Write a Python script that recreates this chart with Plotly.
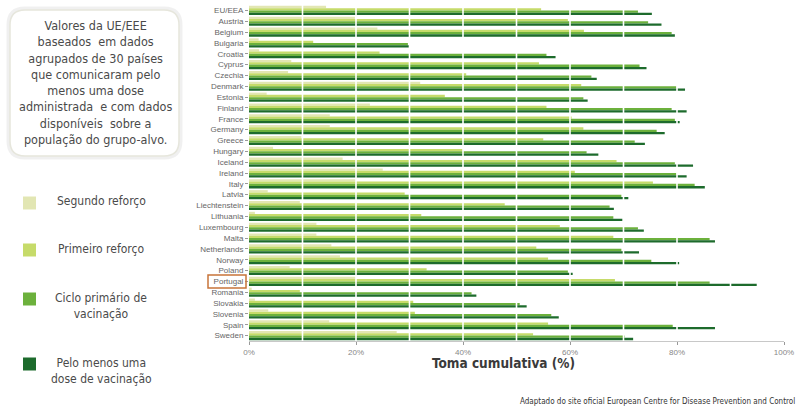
import plotly.graph_objects as go

# Cumulative uptake (%) by country
countries = ["EU/EEA", "Austria", "Belgium", "Bulgaria", "Croatia", "Cyprus", "Czechia",
             "Denmark", "Estonia", "Finland", "France", "Germany", "Greece", "Hungary",
             "Iceland", "Ireland", "Italy", "Latvia", "Liechtenstein", "Lithuania",
             "Luxembourg", "Malta", "Netherlands", "Norway", "Poland", "Portugal",
             "Romania", "Slovakia", "Slovenia", "Spain", "Sweden"]
segundo_reforco = [14.4, 19.8, 24.0, 1.8, 1.9, 7.9, 7.3, 32.0, 3.3, 22.6, 15.1, 15.1, 9.8, 4.5,
                   17.5, 25.0, 20.0, 3.5, 9.5, 1.1, 12.6, 12.6, 15.4, 17.0, 7.6, 20.0, 0.5,
                   1.1, 3.6, 15.0, 27.6]
primeiro_reforco = [54.6, 59.6, 62.6, 12.0, 24.4, 54.2, 40.6, 62.1, 36.6, 55.6, 60.3, 62.5, 55.0,
                    40.0, 68.7, 60.9, 75.5, 29.1, 47.8, 32.2, 58.1, 68.1, 53.7, 55.9, 33.2, 68.4,
                    9.5, 30.7, 31.0, 55.9, 53.1]
ciclo_primario = [72.7, 74.6, 79.0, 29.7, 55.6, 73.0, 64.0, 79.9, 62.5, 79.0, 79.6, 76.2, 72.1,
                  63.1, 79.6, 79.9, 83.3, 69.6, 67.4, 68.1, 72.7, 86.1, 69.6, 75.2, 59.6, 86.1,
                  41.6, 50.6, 56.5, 79.2, 70.2]
uma_dose = [75.3, 77.1, 79.6, 30.0, 57.3, 74.3, 65.0, 81.5, 63.3, 81.8, 80.5, 77.7, 74.0, 65.3,
            83.0, 81.8, 85.2, 70.9, 68.2, 69.8, 73.8, 87.1, 72.9, 80.4, 60.5, 94.9, 42.5, 51.9,
            57.9, 87.1, 71.8]

series_names = ["Segundo reforço", "Primeiro reforço", "Ciclo primário de<br>vacinação",
                "Pelo menos uma<br>dose de vacinação"]
series_colors = ["#e2e6b3", "#c6db6a", "#6cb13c", "#1d6b2c"]
x_ticks = [0, 20, 40, 60, 80, 100]
x_ticklabels = ["0%", "20%", "40%", "60%", "80%", "100%"]

W, H = 803, 408
L, R, T, B = 249, 19, 5, 67
PW, PH = W - L - R, H - T - B


def px(x):
    return (x - L) / PW


def py(y):
    return (H - B - y) / PH


fig = go.Figure()
for name, vals, col in zip(series_names, [segundo_reforco, primeiro_reforco, ciclo_primario, uma_dose],
                           series_colors):
    fig.add_trace(go.Bar(y=countries, x=vals, orientation="h", name=name,
                         marker=dict(color=col, line=dict(width=0)), showlegend=False))

shapes = []
# white vertical rules every 10%
for v in range(10, 100, 10):
    shapes.append(dict(type="line", xref="x", yref="paper", x0=v, x1=v, y0=0, y1=1,
                       line=dict(color="white", width=1.6), layer="above"))


def rounded_rect(x0, y0, x1, y1, r):
    rx, ry = r / PW, r / PH
    a0, a1 = px(x0), px(x1)
    b0, b1 = py(y1), py(y0)  # b0 bottom, b1 top
    return (f"M {a0+rx},{b1} L {a1-rx},{b1} Q {a1},{b1} {a1},{b1-ry} "
            f"L {a1},{b0+ry} Q {a1},{b0} {a1-rx},{b0} L {a0+rx},{b0} "
            f"Q {a0},{b0} {a0},{b0+ry} L {a0},{b1-ry} Q {a0},{b1} {a0+rx},{b1} Z")


# soft shadow and box for the note
shapes.append(dict(type="path", xref="paper", yref="paper", path=rounded_rect(9, 9, 180, 157, 16),
                   line=dict(color="rgba(0,0,0,0.06)", width=5), fillcolor="white", layer="below"))
shapes.append(dict(type="path", xref="paper", yref="paper", path=rounded_rect(10, 10, 179, 156, 15),
                   line=dict(color="#e6e6dc", width=1.5), fillcolor="white", layer="below"))

# legend swatches
legend_y = [203, 250, 299, 364]
for yy, col in zip(legend_y, series_colors):
    shapes.append(dict(type="rect", xref="paper", yref="paper", x0=px(23), x1=px(36),
                       y0=py(yy + 6.5), y1=py(yy - 6.5), fillcolor=col, line=dict(width=0)))

# highlight box around Portugal
shapes.append(dict(type="rect", xref="paper", yref="paper", x0=px(208), x1=px(246),
                   y0=py(288), y1=py(275), line=dict(color="#c8743a", width=1.5),
                   fillcolor="rgba(0,0,0,0)"))

font_main = "DejaVu Sans Condensed, Liberation Sans Narrow, Roboto, sans-serif"
font_ticks = "Liberation Sans, Arial, sans-serif"
annotations = []
note = ("Valores da UE/EEE<br>baseados  em dados<br>agrupados de 30 países<br>"
        "que comunicaram pelo<br>menos uma dose<br>administrada  e com dados<br>"
        "disponíveis  sobre a<br>população do grupo-alvo.")
annotations.append(dict(xref="paper", yref="paper", x=px(95), y=py(83), text=note,
                        showarrow=False, xanchor="center", yanchor="middle", align="center",
                        font=dict(family=font_main, size=12.5, color="#4a4a4a")))
legend_text_y = [201, 249, 306, 371]
for name, yy in zip(series_names, legend_text_y):
    annotations.append(dict(xref="paper", yref="paper", x=px(101), y=py(yy), text=name,
                            showarrow=False, xanchor="center", yanchor="middle", align="center",
                            font=dict(family=font_main, size=12, color="#4a4a4a")))
annotations.append(dict(xref="paper", yref="paper", x=px(503), y=py(363),
                        text="<b>Toma cumulativa (%)</b>", showarrow=False, xanchor="center",
                        yanchor="middle",
                        font=dict(family=font_main, size=13.5, color="#3a3a3a")))
annotations.append(dict(xref="paper", yref="paper", x=px(797), y=py(401),
                        text="Adaptado do site oficial European Centre for Disease Prevention and Control",
                        showarrow=False, xanchor="right", yanchor="middle",
                        font=dict(family=font_main, size=8, color="#333333")))

fig.update_layout(
    width=W, height=H,
    margin=dict(l=L, r=R, t=T, b=B),
    paper_bgcolor="white", plot_bgcolor="white",
    barmode="group", bargap=0.16, bargroupgap=0,
    shapes=shapes, annotations=annotations,
    xaxis=dict(range=[0, 100], tickvals=x_ticks, ticktext=x_ticklabels, showgrid=False,
               zeroline=False, showline=True, linecolor="#c8c8c8", linewidth=1,
               ticks="outside", ticklen=3, tickcolor="#999999",
               tickfont=dict(family=font_ticks, size=8, color="#888888")),
    yaxis=dict(autorange="reversed", showgrid=False, zeroline=False, showline=False,
               ticks="outside", ticklen=3, tickcolor="#999999",
               tickfont=dict(family=font_ticks, size=8, color="#666666")),
)

fig.write_html("out.html")
